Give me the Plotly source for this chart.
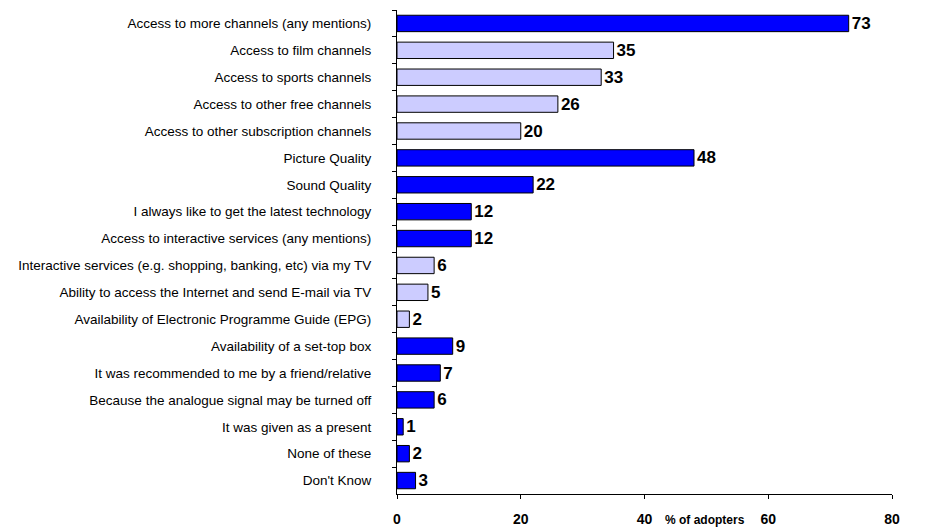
import plotly.graph_objects as go

# Reasons for adopting digital TV, % of adopters
reasons = [
    "Access to more channels (any mentions)",
    "Access to film channels",
    "Access to sports channels",
    "Access to other free channels",
    "Access to other subscription channels",
    "Picture Quality",
    "Sound Quality",
    "I always like to get the latest technology",
    "Access to interactive services (any mentions)",
    "Interactive services (e.g. shopping, banking, etc) via my TV",
    "Ability to access the Internet and send E-mail via TV",
    "Availability of Electronic Programme Guide (EPG)",
    "Availability of a set-top box",
    "It was recommended to me by a friend/relative",
    "Because the analogue signal may be turned off",
    "It was given as a present",
    "None of these",
    "Don't Know",
]
pct_adopters = [73, 35, 33, 26, 20, 48, 22, 12, 12, 6, 5, 2, 9, 7, 6, 1, 2, 3]
# True for summary / headline reasons, False for sub-reasons
is_headline = [True, False, False, False, False, True, True, True, True,
               False, False, False, True, True, True, True, True, True]

x_ticks = [0, 20, 40, 60, 80]

DARK = "#0000FF"
LIGHT = "#CCCCFF"
colors = [DARK if h else LIGHT for h in is_headline]

fig = go.Figure(
    go.Bar(
        x=pct_adopters,
        y=reasons,
        orientation="h",
        marker=dict(color=colors, line=dict(color="black", width=1)),
        text=pct_adopters,
        textposition="outside",
        constraintext="none",
        textfont=dict(family="Liberation Sans, Arial", size=17, color="black", weight="bold"),
        cliponaxis=False,
        width=0.61,
    )
)

fig.update_layout(
    width=937,
    height=527,
    margin=dict(l=397, r=45, t=10, b=33),
    plot_bgcolor="white",
    paper_bgcolor="white",
    showlegend=False,
    font=dict(family="Liberation Sans, Arial", color="black"),
)

fig.update_xaxes(
    range=[0, 80],
    tickvals=x_ticks,
    ticktext=[str(v) for v in x_ticks],
    tickfont=dict(size=14, weight="bold"),
    showgrid=False,
    zeroline=False,
    showline=True,
    linecolor="black",
    linewidth=1,
    ticks="outside",
    ticklen=4,
    tickcolor="black",
    ticklabelstandoff=8,
    automargin=False,
)

fig.update_yaxes(
    categoryorder="array",
    categoryarray=reasons,
    autorange="reversed",
    tickfont=dict(size=13.5),
    showgrid=False,
    showline=True,
    linecolor="black",
    linewidth=1,
    ticks="outside",
    ticklen=4,
    tickcolor="black",
    tickson="boundaries",
    ticklabelstandoff=22,
    automargin=False,
)

fig.add_annotation(
    text="% of adopters",
    x=43,
    xref="x",
    xanchor="left",
    y=0,
    yref="paper",
    yanchor="middle",
    yshift=-26,
    showarrow=False,
    font=dict(size=12, weight="bold"),
)

fig.write_html("out.html")
